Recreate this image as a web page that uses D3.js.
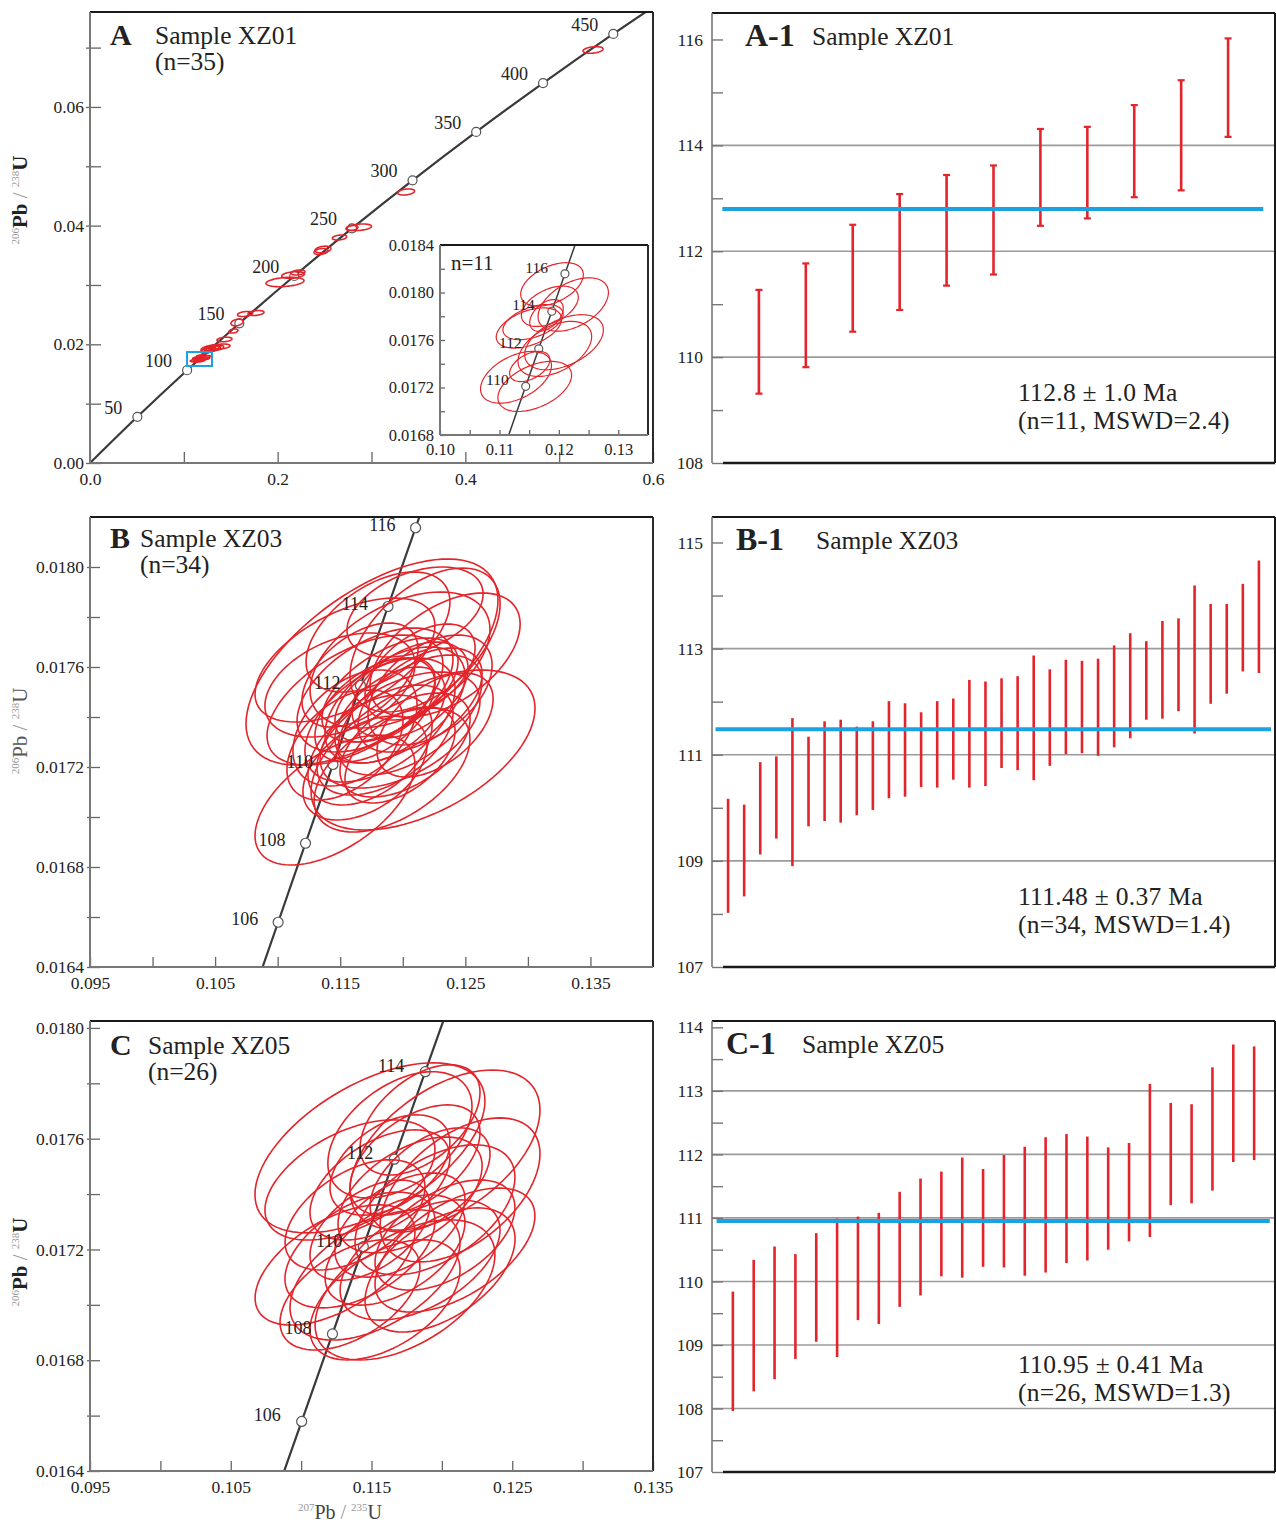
<!DOCTYPE html>
<html><head><meta charset="utf-8">
<script src="https://cdn.jsdelivr.net/npm/d3@7"></script>
<style>
body{margin:0;background:#fff}
svg text{font-family:"Liberation Serif","Times New Roman",serif;fill:#222}
</style>
</head><body>
<svg id="c" width="1276" height="1523"></svg>
<script>
// ---------------- DATA ----------------
// Concordia reference points (Ma -> 207Pb/235U, 206Pb/238U)
const concAgesA = [0,50,100,150,200,250,300,350,400,450,500];
const concXA = [0,0.050475,0.10350,0.159197,0.217708,0.279171,0.343737,0.411563,0.482812,0.557657,0.63628];
const concYA = [0,0.0077864,0.015633,0.023542,0.031511,0.039543,0.047637,0.055795,0.064016,0.0723005,0.08065];
const markerAgesA = [50,100,150,200,250,300,350,400,450];

const concAgesZ = [102,104,106,108,110,112,114,116,118,120];
const concXZ = [0.105674,0.107854,0.110038,0.112226,0.114419,0.116617,0.118818,0.121024,0.123234,0.125449];
const concYZ = [0.015949,0.016264,0.016579,0.016895,0.017210,0.017526,0.017842,0.018157,0.018473,0.018789];
const markerAgesInset = [110,112,114,116];
const markerAgesB = [106,108,110,112,114,116];
const markerAgesC = [106,108,110,112,114];

// Ellipses: [207Pb/235U, 206Pb/238U, sigma x, sigma y, rho]
const ellipsesA = [
 [0.5361,0.06960,0.01066,0.00056,0.3],[0.3368,0.04567,0.00906,0.00051,0.3],
 [0.2867,0.03972,0.01332,0.00056,0.3],[0.2792,0.03960,0.0064,0.00042,0.3],
 [0.2659,0.0380,0.00767,0.00042,0.3],[0.2483,0.03598,0.00853,0.00056,0.3],
 [0.2462,0.03564,0.00746,0.00051,0.3],[0.2078,0.03050,0.02025,0.00079,0.3],
 [0.2164,0.03168,0.01204,0.00056,0.3],[0.2217,0.0321,0.00746,0.00042,0.3],
 [0.1652,0.02511,0.008,0.00042,0.3],[0.1769,0.02528,0.0085,0.00042,0.3],
 [0.1567,0.02368,0.0064,0.00056,0.3],[0.1529,0.02224,0.0048,0.00034,0.3],
 [0.1433,0.02081,0.008,0.00039,0.3],[0.1396,0.01963,0.0096,0.00042,0.3],
 [0.1300,0.01938,0.0085,0.0005,0.3],[0.1258,0.01921,0.0075,0.0005,0.3],
 [0.1332,0.01955,0.0064,0.00042,0.3],[0.1236,0.01887,0.0053,0.00042,0.3],
 [0.1280,0.01910,0.006,0.0004,0.3],[0.1350,0.01945,0.0075,0.00045,0.3],
 [0.1310,0.01925,0.0070,0.00042,0.3],[0.1280,0.01930,0.0050,0.0004,0.3]
];
const ellipsesInset = [
 [0.11885,0.018068,0.00527,0.000183,0.45],[0.12242,0.017899,0.00592,0.000225,0.45],
 [0.11848,0.017884,0.00479,0.00017,0.45],[0.11792,0.017807,0.00282,0.000134,0.45],
 [0.11566,0.017751,0.00507,0.000148,0.45],[0.11496,0.017701,0.0055,0.000169,0.45],
 [0.12087,0.017581,0.00662,0.000232,0.45],[0.11932,0.017525,0.0062,0.000232,0.45],
 [0.1151,0.017377,0.00338,0.000127,0.45],[0.11279,0.017286,0.00597,0.000218,0.45],
 [0.11594,0.017209,0.0062,0.000211,0.45]
];
const ellipsesB = [
 [0.11754,0.01762,0.01007,0.000412,0.6],[0.12162,0.017268,0.00895,0.00032,0.52],
 [0.11458,0.017068,0.00639,0.00026,0.55],[0.12178,0.017708,0.0060,0.000288,0.5],
 [0.11978,0.017628,0.00719,0.000272,0.45],[0.12338,0.017648,0.0060,0.000248,0.5],
 [0.11618,0.017468,0.00703,0.00026,0.55],[0.11498,0.017528,0.0060,0.000208,0.4],
 [0.11818,0.017388,0.0060,0.000248,0.5],[0.11938,0.017448,0.0056,0.000232,0.5],
 [0.12058,0.017408,0.00575,0.00024,0.55],[0.11858,0.017308,0.00544,0.00022,0.5],
 [0.11978,0.017348,0.00639,0.000232,0.5],[0.11738,0.017268,0.00496,0.00022,0.45],
 [0.12138,0.017468,0.00496,0.000208,0.5],[0.11778,0.017508,0.00623,0.000248,0.5],
 [0.11618,0.017356,0.00496,0.000232,0.4],[0.12218,0.017508,0.00496,0.00022,0.45],
 [0.11898,0.017508,0.00544,0.000208,0.55],[0.12018,0.017288,0.0052,0.000208,0.5],
 [0.11698,0.017196,0.00496,0.000208,0.45],[0.11914,0.017188,0.00623,0.000248,0.5],
 [0.11802,0.01774,0.00575,0.00024,0.5],[0.12098,0.01782,0.00544,0.00018,0.4],
 [0.11538,0.017628,0.00719,0.000248,0.55],[0.12258,0.017368,0.00464,0.000208,0.5],
 [0.11898,0.017408,0.0044,0.000192,0.5],[0.12058,0.017508,0.00464,0.000192,0.45],
 [0.11778,0.017428,0.0048,0.000208,0.5],[0.11538,0.017288,0.00464,0.00022,0.45],
 [0.12138,0.01758,0.0044,0.000192,0.5],[0.11658,0.017568,0.00464,0.000208,0.5],
 [0.11978,0.017248,0.0044,0.000192,0.5],[0.11858,0.017468,0.004,0.000168,0.5]
];
const ellipsesC = [
 [0.11489,0.017567,0.00817,0.000307,0.55],[0.12022,0.017559,0.00675,0.000289,0.5],
 [0.12129,0.017415,0.00568,0.00026,0.5],[0.11702,0.017614,0.00512,0.000228,0.45],
 [0.11845,0.017668,0.00426,0.000199,0.5],[0.11347,0.017451,0.00604,0.000217,0.5],
 [0.1156,0.017433,0.00497,0.000199,0.5],[0.11774,0.017397,0.00512,0.000209,0.5],
 [0.11951,0.017343,0.00568,0.000235,0.5],[0.11631,0.017505,0.00426,0.000181,0.45],
 [0.11383,0.017325,0.00497,0.000199,0.5],[0.11809,0.017523,0.00462,0.000199,0.5],
 [0.12022,0.017252,0.00497,0.000199,0.5],[0.11241,0.017144,0.00568,0.000217,0.55],
 [0.11525,0.017108,0.00604,0.000235,0.5],[0.11738,0.017054,0.00639,0.000253,0.5],
 [0.11845,0.017162,0.00568,0.000217,0.5],[0.11418,0.017198,0.00533,0.000209,0.5],
 [0.11667,0.017198,0.00497,0.000199,0.5],[0.11596,0.017018,0.00533,0.000217,0.5],
 [0.11987,0.017126,0.00533,0.000224,0.5],[0.11347,0.017036,0.00497,0.000199,0.5],
 [0.11702,0.017288,0.00462,0.000188,0.5],[0.11489,0.01727,0.00426,0.000181,0.5],
 [0.11916,0.017451,0.00426,0.000188,0.5],[0.12093,0.017198,0.00568,0.000224,0.55]
];
const zoomBoxA = [0.1034,0.1300,0.01635,0.0187];

// Weighted-mean age bars (Ma)
const loA1 = [109.31,109.81,110.48,110.89,111.35,111.56,112.48,112.62,113.02,113.15,114.16];
const hiA1 = [111.27,111.77,112.50,113.08,113.44,113.62,114.31,114.35,114.76,115.23,116.02];
const meanA1 = 112.8;
const loB1 = [108.02,108.33,109.12,109.42,108.90,109.65,109.75,109.72,109.86,109.96,110.18,110.21,110.39,110.38,110.53,110.38,110.41,110.75,110.71,110.52,110.79,111.01,111.03,110.98,111.14,111.31,111.66,111.68,111.82,111.40,111.96,112.15,112.57,112.54];
const hiB1 = [110.17,110.06,110.86,110.97,111.69,111.34,111.63,111.66,111.53,111.63,112.01,111.97,111.80,112.01,112.06,112.41,112.38,112.44,112.48,112.87,112.61,112.79,112.77,112.81,113.06,113.29,113.14,113.52,113.57,114.19,113.84,113.84,114.22,114.66];
const meanB1 = 111.48;
const loC1 = [107.96,108.27,108.46,108.78,109.05,108.81,109.39,109.33,109.60,109.78,110.08,110.06,110.23,110.22,110.09,110.14,110.29,110.33,110.50,110.63,110.70,111.20,111.23,111.43,111.88,111.91];
const hiC1 = [109.84,110.34,110.55,110.43,110.76,110.99,111.02,111.08,111.41,111.62,111.73,111.95,111.77,111.99,112.12,112.27,112.32,112.28,112.11,112.18,113.11,112.81,112.79,113.37,113.73,113.70];
const meanC1 = 110.95;

// Tick values / labels
const xTicksA = [0,0.1,0.2,0.3,0.4,0.5,0.6], xLabelsA = [0,0.2,0.4,0.6];
const yTicksA = [0,0.01,0.02,0.03,0.04,0.05,0.06,0.07], yLabelsA = [0,0.02,0.04,0.06];
const xTicksIn = [0.10,0.105,0.11,0.115,0.12,0.125,0.13], xLabelsIn = [0.10,0.11,0.12,0.13];
const yTicksIn = [0.0168,0.017,0.0172,0.0174,0.0176,0.0178,0.018,0.0182,0.0184], yLabelsIn = [0.0168,0.0172,0.0176,0.018,0.0184];
const xTicksBC = [0.095,0.1,0.105,0.11,0.115,0.12,0.125,0.13,0.135], xLabelsBC = [0.095,0.105,0.115,0.125,0.135];
const yTicksBC = [0.0164,0.0166,0.0168,0.017,0.0172,0.0174,0.0176,0.0178,0.018], yLabelsBC = [0.0164,0.0168,0.0172,0.0176,0.018];
const ageTicksA1 = [108,109,110,111,112,113,114,115,116], ageLabelsA1 = [108,110,112,114,116], gridA1 = [110,112,114];
const ageTicksB1 = [107,108,109,110,111,112,113,114,115], ageLabelsB1 = [107,109,111,113,115], gridB1 = [109,111,113];
const ageTicksC1 = [107,107.5,108,108.5,109,109.5,110,110.5,111,111.5,112,112.5,113,113.5,114], ageLabelsC1 = [107,108,109,110,111,112,113,114], gridC1 = [108,109,110,111,112,113];

// ---------------- DRAWING ----------------
const svg = d3.select("#c");
const RED = "#e3242b", BLUE = "#1aa2e2";
let clipN = 0;

function fmt(labels, digits) {
  return v => labels.some(l => Math.abs(l - v) < 1e-9) ? v.toFixed(digits) : "";
}
function ellipsePath(xs, ys, e) {
  const [cx, cy, sx, sy, r] = e, k = Math.sqrt(1 - r * r);
  const pts = d3.range(90).map(i => {
    const t = i / 90 * 2 * Math.PI;
    return [xs(cx + sx * Math.cos(t)), ys(cy + sy * (r * Math.cos(t) + k * Math.sin(t)))];
  });
  return d3.line().curve(d3.curveLinearClosed)(pts);
}

function concordiaPanel(o) {
  const g = svg.append("g");
  const xs = d3.scaleLinear().domain(o.xDomain).range([o.x0, o.x1]);
  const ys = d3.scaleLinear().domain(o.yDomain).range([o.y1, o.y0]);
  if (o.bg) g.append("rect").attr("x", o.x0).attr("y", o.y0).attr("width", o.x1 - o.x0).attr("height", o.y1 - o.y0).attr("fill", "#fff");
  const id = "clip" + (clipN++);
  svg.append("clipPath").attr("id", id).append("rect")
    .attr("x", o.x0).attr("y", o.y0).attr("width", o.x1 - o.x0).attr("height", o.y1 - o.y0);
  const inner = g.append("g").attr("clip-path", `url(#${id})`);
  inner.append("path").datum(d3.zip(o.cx, o.cy))
    .attr("d", d3.line().x(d => xs(d[0])).y(d => ys(d[1])).curve(d3.curveCatmullRom))
    .attr("fill", "none").attr("stroke", "#3a3a3a").attr("stroke-width", o.lineW);
  const mk = o.markers.map(a => { const i = o.ages.indexOf(a); return [o.cx[i], o.cy[i], a]; });
  inner.selectAll("circle.mk").data(mk).join("circle").attr("class", "mk")
    .attr("cx", d => xs(d[0])).attr("cy", d => ys(d[1])).attr("r", o.mr)
    .attr("fill", "#fff").attr("stroke", "#555").attr("stroke-width", 1.2);
  g.selectAll("text.mk").data(mk).join("text").attr("class", "mk")
    .attr("x", d => xs(d[0]) + o.labDx).attr("y", d => ys(d[1]) + o.labDy)
    .attr("text-anchor", "end").attr("font-size", o.labSize).text(d => d[2]);
  (o.extraEllipses || []).forEach(e => inner.append("path").attr("d", ellipsePath(xs, ys, e))
    .attr("fill", "none").attr("stroke", RED).attr("stroke-width", 1.6));
  o.ellipses.forEach(e => inner.append("path").attr("d", ellipsePath(xs, ys, e))
    .attr("fill", "none").attr("stroke", RED).attr("stroke-width", o.ew));
  if (o.box) inner.append("rect").attr("x", xs(o.box[0])).attr("y", ys(o.box[3]))
    .attr("width", xs(o.box[1]) - xs(o.box[0])).attr("height", ys(o.box[2]) - ys(o.box[3]))
    .attr("fill", "none").attr("stroke", BLUE).attr("stroke-width", 2);
  // axes
  const ax = g.append("g").attr("transform", `translate(0,${o.y1})`)
    .call(d3.axisBottom(xs).tickValues(o.xTicks).tickFormat(fmt(o.xLabels, o.xDigits)).tickSize(-o.tick).tickPadding(o.xPad));
  ax.select(".domain").remove();
  ax.selectAll(".tick line").attr("stroke", "#666").attr("stroke-width", 1.3);
  ax.selectAll(".tick text").attr("font-size", o.fs);
  const ay = g.append("g").attr("transform", `translate(${o.x0},0)`)
    .call(d3.axisLeft(ys).tickValues(o.yTicks).tickFormat(fmt(o.yLabels, o.yDigits)).tickSize(-o.tick).tickPadding(o.yPad));
  ay.select(".domain").remove();
  ay.selectAll(".tick line").attr("x1", -o.tickOut).attr("stroke", "#666").attr("stroke-width", 1.3);
  ay.selectAll(".tick text").attr("font-size", o.fs);
  // frame
  g.append("line").attr("x1", o.x0).attr("x2", o.x1).attr("y1", o.y0).attr("y2", o.y0).attr("stroke", "#1a1a1a").attr("stroke-width", 2);
  g.append("line").attr("x1", o.x1).attr("x2", o.x1).attr("y1", o.y0).attr("y2", o.y1).attr("stroke", "#2a2a2a").attr("stroke-width", 2);
  g.append("line").attr("x1", o.x0).attr("x2", o.x0).attr("y1", o.y0).attr("y2", o.y1).attr("stroke", "#777").attr("stroke-width", 2);
  g.append("line").attr("x1", o.x0).attr("x2", o.x1).attr("y1", o.y1).attr("y2", o.y1).attr("stroke", "#777").attr("stroke-width", 2);
  return g;
}

function yTitle(cx, cy, bold) {
  const t = svg.append("text").attr("transform", `translate(${cx},${cy}) rotate(-90)`)
    .attr("text-anchor", "middle").attr("font-size", 21);
  t.append("tspan").attr("font-size", 11).attr("dy", -8).style("fill", "#999").text("206");
  t.append("tspan").attr("dy", 8).attr("font-weight", bold ? "bold" : "normal").style("fill", bold ? "#222" : "#555").text("Pb");
  t.append("tspan").style("fill", "#999").text(" / ");
  t.append("tspan").attr("font-size", 11).attr("dy", -8).style("fill", "#999").text("238");
  t.append("tspan").attr("dy", 8).attr("font-weight", bold ? "bold" : "normal").style("fill", bold ? "#222" : "#555").text("U");
}

function panelTitle(x, y, letter, sample, n, xs) {
  svg.append("text").attr("x", x).attr("y", y).attr("font-size", 30).attr("font-weight", "bold").text(letter);
  svg.append("text").attr("x", xs).attr("y", y - 1).attr("font-size", 25.5).text(sample);
  if (n) svg.append("text").attr("x", xs).attr("y", y + 25).attr("font-size", 25.5).text(n);
}

function agePanel(o) {
  const g = svg.append("g");
  const n = o.lo.length;
  const xs = d3.scaleLinear().domain([0, n + 1]).range([o.x0, o.x1]);
  const ys = d3.scaleLinear().domain(o.yDomain).range([o.y1, o.y0]);
  g.selectAll("line.grid").data(o.grid).join("line").attr("class", "grid")
    .attr("x1", o.x0).attr("x2", o.x1).attr("y1", d => ys(d)).attr("y2", d => ys(d))
    .attr("stroke", "#9b9b9b").attr("stroke-width", 1.6);
  const ay = g.append("g").attr("transform", `translate(${o.x0},0)`)
    .call(d3.axisLeft(ys).tickValues(o.ticks).tickFormat(fmt(o.labels, 0)).tickSize(-11).tickPadding(9));
  ay.select(".domain").remove();
  ay.selectAll(".tick line").attr("stroke", "#777").attr("stroke-width", 1.4);
  ay.selectAll(".tick text").attr("font-size", 17.5);
  const data = d3.zip(o.lo, o.hi);
  g.selectAll("line.bar").data(data).join("line").attr("class", "bar")
    .attr("x1", (d, i) => xs(i + 1)).attr("x2", (d, i) => xs(i + 1))
    .attr("y1", d => ys(d[0])).attr("y2", d => ys(d[1]))
    .attr("stroke", RED).attr("stroke-width", 2.6);
  if (o.caps) {
    ["lo", "hi"].forEach((k, j) => g.selectAll("line.cap" + k).data(data).join("line").attr("class", "cap" + k)
      .attr("x1", (d, i) => xs(i + 1) - 3.5).attr("x2", (d, i) => xs(i + 1) + 3.5)
      .attr("y1", d => ys(d[j])).attr("y2", d => ys(d[j]))
      .attr("stroke", RED).attr("stroke-width", 2.2));
  }
  g.append("line").attr("x1", xs(0.22)).attr("x2", xs(n + 0.75))
    .attr("y1", ys(o.mean)).attr("y2", ys(o.mean)).attr("stroke", BLUE).attr("stroke-width", 4);
  // frame
  g.append("line").attr("x1", o.x0).attr("x2", o.x1).attr("y1", o.y0).attr("y2", o.y0).attr("stroke", "#1a1a1a").attr("stroke-width", 2);
  g.append("line").attr("x1", o.x1).attr("x2", o.x1).attr("y1", o.y0).attr("y2", o.y1).attr("stroke", "#1a1a1a").attr("stroke-width", 2);
  g.append("line").attr("x1", o.x0).attr("x2", o.x0).attr("y1", o.y0).attr("y2", o.y1).attr("stroke", "#777").attr("stroke-width", 1.6);
  g.append("line").attr("x1", o.x0 + 11).attr("x2", o.x1).attr("y1", o.y1).attr("y2", o.y1).attr("stroke", "#1a1a1a").attr("stroke-width", 2.5);
  // texts
  g.append("text").attr("x", o.x0 + o.tdx).attr("y", o.y0 + 33).attr("font-size", 32).attr("font-weight", "bold").text(o.letter);
  g.append("text").attr("x", o.x0 + o.sdx).attr("y", o.y0 + 32).attr("font-size", 25.5).text(o.sample);
  g.append("text").attr("x", 1018).attr("y", o.y1 - o.resDy).attr("font-size", 25.5).attr("letter-spacing", 0.3).text(o.res1);
  g.append("text").attr("x", 1018).attr("y", o.y1 - o.resDy + 28).attr("font-size", 25.5).attr("letter-spacing", 0.3).text(o.res2);
}

// Panel A
concordiaPanel({x0: 90, x1: 653, y0: 12, y1: 463, xDomain: [0, 0.6], yDomain: [0, 0.076],
  cx: concXA, cy: concYA, ages: concAgesA, markers: markerAgesA, lineW: 2.2, mr: 4.5,
  labDx: -15, labDy: -3, labSize: 18, ellipses: ellipsesA, extraEllipses: ellipsesInset, ew: 1.6, box: zoomBoxA,
  xTicks: xTicksA, xLabels: xLabelsA, xDigits: 1, yTicks: yTicksA, yLabels: yLabelsA, yDigits: 2,
  tick: 11, tickOut: 4, xPad: 10, yPad: 6, fs: 17.5});
// Inset
concordiaPanel({x0: 440, x1: 648, y0: 245, y1: 435, xDomain: [0.10, 0.135], yDomain: [0.0168, 0.0184], bg: true,
  cx: concXZ, cy: concYZ, ages: concAgesZ, markers: markerAgesInset, lineW: 1.5, mr: 4,
  labDx: -17, labDy: -1, labSize: 15.5, ellipses: ellipsesInset, ew: 1.2,
  xTicks: xTicksIn, xLabels: xLabelsIn, xDigits: 2, yTicks: yTicksIn, yLabels: yLabelsIn, yDigits: 4,
  tick: 5, tickOut: 0, xPad: 8, yPad: 6, fs: 16.5});
svg.append("text").attr("x", 451).attr("y", 270).attr("font-size", 21).text("n=11");

// Panel B
concordiaPanel({x0: 90, x1: 653, y0: 517, y1: 967, xDomain: [0.095, 0.14], yDomain: [0.0164, 0.0182],
  cx: concXZ, cy: concYZ, ages: concAgesZ, markers: markerAgesB, lineW: 2.2, mr: 5,
  labDx: -20, labDy: 3, labSize: 18, ellipses: ellipsesB, ew: 1.6,
  xTicks: xTicksBC, xLabels: xLabelsBC, xDigits: 3, yTicks: yTicksBC, yLabels: yLabelsBC, yDigits: 4,
  tick: 10, tickOut: 3, xPad: 10, yPad: 6, fs: 17.5});
// Panel C
concordiaPanel({x0: 90, x1: 653, y0: 1021, y1: 1471, xDomain: [0.095, 0.135], yDomain: [0.0164, 0.018025],
  cx: concXZ, cy: concYZ, ages: concAgesZ, markers: markerAgesC, lineW: 2.2, mr: 5,
  labDx: -21, labDy: 0, labSize: 18, ellipses: ellipsesC, ew: 1.6,
  xTicks: xTicksBC, xLabels: xLabelsBC, xDigits: 3, yTicks: yTicksBC, yLabels: yLabelsBC, yDigits: 4,
  tick: 10, tickOut: 3, xPad: 10, yPad: 6, fs: 17.5});

panelTitle(110, 45, "A", "Sample XZ01", "(n=35)", 155);
panelTitle(110, 548, "B", "Sample XZ03", "(n=34)", 140);
panelTitle(110, 1055, "C", "Sample XZ05", "(n=26)", 148);

yTitle(27, 200, true);
yTitle(27, 731, false);
yTitle(27, 1262, true);
const xt = svg.append("text").attr("x", 340).attr("y", 1519).attr("text-anchor", "middle").attr("font-size", 20);
xt.append("tspan").attr("font-size", 11).attr("dy", -8).style("fill", "#999").text("207");
xt.append("tspan").attr("dy", 8).style("fill", "#444").text("Pb");
xt.append("tspan").style("fill", "#999").text(" / ");
xt.append("tspan").attr("font-size", 11).attr("dy", -8).style("fill", "#999").text("235");
xt.append("tspan").attr("dy", 8).style("fill", "#444").text("U");

// Age panels
agePanel({x0: 712, x1: 1275, y0: 13, y1: 463, yDomain: [108, 116.5], lo: loA1, hi: hiA1, mean: meanA1, caps: true,
  ticks: ageTicksA1, labels: ageLabelsA1, grid: gridA1, letter: "A-1", sample: "Sample XZ01", tdx: 33, sdx: 100, resDy: 62,
  res1: "112.8 ± 1.0 Ma", res2: "(n=11, MSWD=2.4)"});
agePanel({x0: 712, x1: 1275, y0: 517, y1: 967, yDomain: [107, 115.48], lo: loB1, hi: hiB1, mean: meanB1, caps: false,
  ticks: ageTicksB1, labels: ageLabelsB1, grid: gridB1, letter: "B-1", sample: "Sample XZ03", tdx: 24, sdx: 104, resDy: 62,
  res1: "111.48 ± 0.37 Ma", res2: "(n=34, MSWD=1.4)"});
agePanel({x0: 712, x1: 1275, y0: 1021, y1: 1472, yDomain: [107, 114.1], lo: loC1, hi: hiC1, mean: meanC1, caps: false,
  ticks: ageTicksC1, labels: ageLabelsC1, grid: gridC1, letter: "C-1", sample: "Sample XZ05", tdx: 14, sdx: 90, resDy: 99,
  res1: "110.95 ± 0.41 Ma", res2: "(n=26, MSWD=1.3)"});
</script>
</body></html>
